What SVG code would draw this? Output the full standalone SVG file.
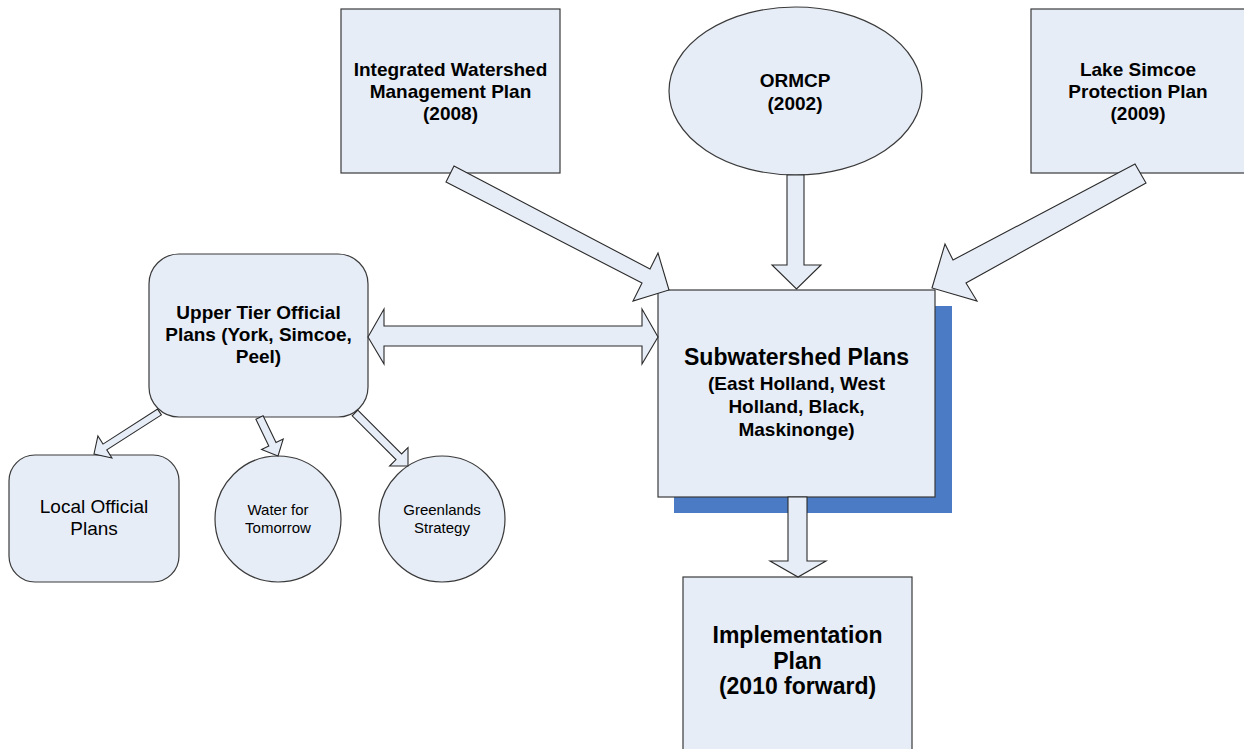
<svg xmlns="http://www.w3.org/2000/svg" width="1244" height="749" viewBox="0 0 1244 749">
<style>
.n{fill:#E7EDF7;stroke:#3a3a3a;stroke-width:1.2}
.a{fill:#E7EDF7;stroke:#2a2a2a;stroke-width:1.1;stroke-linejoin:miter}
.b{font-family:"Liberation Sans",Arial,sans-serif;font-weight:bold;fill:#000;text-anchor:middle}
.r{font-family:"Liberation Sans",Arial,sans-serif;fill:#000;text-anchor:middle}
</style>
<rect width="1244" height="749" fill="#fff"/>
<g id="iwmp">
<rect class="n" x="341" y="9" width="219" height="164"/>
<text class="b" font-size="19"><tspan x="450.5" y="76">Integrated Watershed</tspan><tspan x="450.5" y="98">Management Plan</tspan><tspan x="450.5" y="120">(2008)</tspan></text>
</g>
<g id="ormcp">
<ellipse class="n" cx="795.5" cy="91" rx="126.5" ry="84"/>
<text class="b" font-size="19"><tspan x="795" y="87">ORMCP</tspan><tspan x="795" y="110">(2002)</tspan></text>
</g>
<g id="lake-simcoe">
<rect class="n" x="1031" y="9" width="214" height="164"/>
<text class="b" font-size="19"><tspan x="1138" y="76">Lake Simcoe</tspan><tspan x="1138" y="98">Protection Plan</tspan><tspan x="1138" y="120">(2009)</tspan></text>
</g>
<g id="upper-tier">
<rect class="n" x="149" y="254" width="219" height="163" rx="30" ry="30"/>
<text class="b" font-size="19"><tspan x="258.5" y="319">Upper Tier Official</tspan><tspan x="258.5" y="341">Plans (York, Simcoe,</tspan><tspan x="258.5" y="363">Peel)</tspan></text>
</g>
<g id="subwatershed">
<rect x="674" y="306" width="278" height="207" fill="#4A7BC4"/>
<rect class="n" x="658" y="290" width="277" height="207"/>
<text class="b"><tspan x="796.5" y="365" font-size="23">Subwatershed Plans</tspan><tspan x="796.5" y="390" font-size="19">(East Holland, West</tspan><tspan x="796.5" y="413" font-size="19">Holland, Black,</tspan><tspan x="796.5" y="436" font-size="19">Maskinonge)</tspan></text>
</g>
<g id="local-official">
<rect class="n" x="9" y="455" width="170" height="127" rx="26" ry="26"/>
<text class="r" font-size="19"><tspan x="94" y="513">Local Official</tspan><tspan x="94" y="535">Plans</tspan></text>
</g>
<g id="water-tomorrow">
<circle class="n" cx="278" cy="519" r="63"/>
<text class="r" font-size="15"><tspan x="278" y="515">Water for</tspan><tspan x="278" y="533">Tomorrow</tspan></text>
</g>
<g id="greenlands">
<circle class="n" cx="442" cy="519" r="63"/>
<text class="r" font-size="15"><tspan x="442" y="515">Greenlands</tspan><tspan x="442" y="533">Strategy</tspan></text>
</g>
<g id="implementation">
<rect class="n" x="683" y="577" width="229" height="190"/>
<text class="b" font-size="23"><tspan x="797.5" y="643">Implementation</tspan><tspan x="797.5" y="669">Plan</tspan><tspan x="797.5" y="694">(2010 forward)</tspan></text>
</g>
<g id="connectors">
<polygon class="a" points="454,166 650,269 658,253 669,290 633,301 642,283 446,182"/>
<polygon class="a" points="787,175 804,175 804,265 821,265 796.5,289 772,265 787,265"/>
<polygon class="a" points="1135,164 953,260 945,244 932,288 977,301 966,283 1146,183"/>
<polygon class="a" points="368,337 384,309 384,326 642,326 642,309 658,337 642,364 642,346 384,346 384,364"/>
<polygon class="a" points="788,497 807,497 807,561 826,561 798,577 770,561 788,561"/>
<polygon class="a" points="161.4,414.9 106.8,449.9 111.9,458 94,454 97.9,436 103,444.1 157.6,409.1"/>
<polygon class="a" points="263.1,415.8 276,442.6 283.2,439.1 278,456 261.6,449.5 268.8,446 255.9,419.2"/>
<polygon class="a" points="357.8,410.2 401.6,454 408,447.6 408,466 389.6,466 396,459.6 352.2,415.8"/>
</g>
</svg>
